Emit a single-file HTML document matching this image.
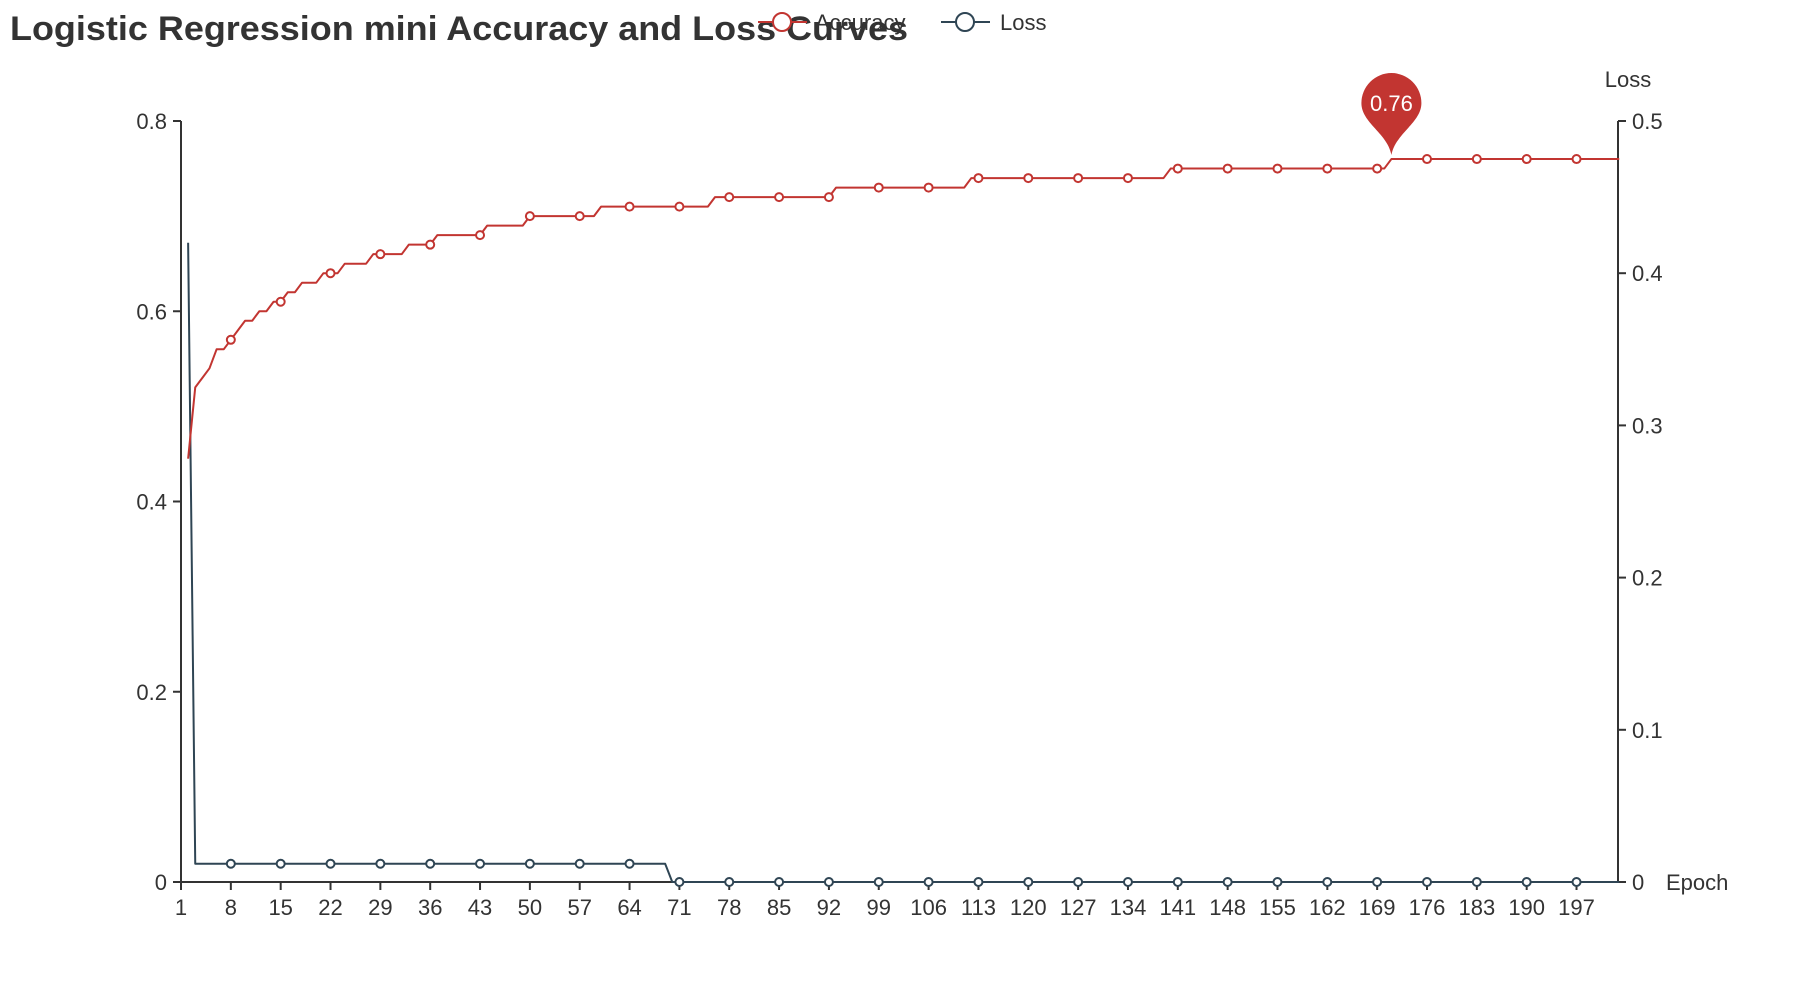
<!DOCTYPE html>
<html><head><meta charset="utf-8">
<style>
html,body{margin:0;padding:0;background:#fff;}
svg{display:block;font-family:"Liberation Sans",sans-serif;}
</style></head>
<body>
<svg id="chart" width="1800" height="1000" viewBox="0 0 1800 1000">
  <text x="10" y="40" font-size="34" font-weight="bold" fill="#333" textLength="898" lengthAdjust="spacingAndGlyphs">Logistic Regression mini Accuracy and Loss Curves</text>
  <g>
    <line x1="758" y1="22" x2="807" y2="22" stroke="#c23531" stroke-width="2"/>
    <circle cx="782" cy="22" r="9" fill="#fff" stroke="#c23531" stroke-width="2"/>
    <text x="815" y="30" font-size="22" fill="#333">Accuracy</text>
  </g>
  <g>
    <line x1="941" y1="22" x2="990" y2="22" stroke="#2f4554" stroke-width="2"/>
    <circle cx="965" cy="22" r="9" fill="#fff" stroke="#2f4554" stroke-width="2"/>
    <text x="1000" y="30" font-size="22" fill="#333">Loss</text>
  </g>
  <g id="axes"></g>
  <g id="series"></g>
</svg>
<script>
const accChangeEpochs = [2,3,4,5,6,8,9,10,12,14,16,18,21,24,28,33,37,44,50,60,76,93,112,140,171];
const accChangeValues = [0.445,0.52,0.53,0.54,0.56,0.57,0.58,0.59,0.60,0.61,0.62,0.63,0.64,0.65,0.66,0.67,0.68,0.69,0.70,0.71,0.72,0.73,0.74,0.75,0.76];
const lossChangeEpochs = [2,3,70];
const lossChangeValues = [0.42,0.012,0.0];
const lastEpoch = 203;
const leftTicks = [0,0.2,0.4,0.6,0.8];
const leftTickLabels = ["0","0.2","0.4","0.6","0.8"];
const rightTicks = [0,0.1,0.2,0.3,0.4,0.5];
const rightTickLabels = ["0","0.1","0.2","0.3","0.4","0.5"];
const markEpoch = 171;
const markValue = 0.76;

const NS="http://www.w3.org/2000/svg";
const X0=181, STEP=7.12, Y0=882, YT=121, XR=1618;
const xOf=e=>X0+(e-1)*STEP;
const yL=v=>Y0-(Y0-YT)*v/0.8;
const yR=v=>Y0-(Y0-YT)*v/0.5;
function mk(tag,attrs,parent){const el=document.createElementNS(NS,tag);for(const k in attrs)el.setAttribute(k,attrs[k]);parent.appendChild(el);return el;}
function expand(ep,vals){const out=[];for(let e=ep[0];e<=lastEpoch;e++){let v=vals[0];for(let i=0;i<ep.length;i++)if(e>=ep[i])v=vals[i];out.push([e,v]);}return out;}

const axes=document.getElementById('axes');
let l=mk('line',{x1:X0,y1:YT,x2:X0,y2:Y0,stroke:'#333','stroke-width':2},axes);


leftTicks.forEach((t,i)=>{
  const y=yL(t);
  mk('line',{x1:X0-8,y1:y,x2:X0,y2:y,stroke:'#333','stroke-width':2},axes);
  const tx=mk('text',{x:X0-14,y:y+8,'font-size':22,fill:'#333','text-anchor':'end'},axes);
  tx.textContent=leftTickLabels[i];
  
  
});
let r=mk('line',{x1:XR,y1:YT,x2:XR,y2:Y0,stroke:'#333','stroke-width':2},axes);


rightTicks.forEach((t,i)=>{
  const y=yR(t);
  mk('line',{x1:XR,y1:y,x2:XR+8,y2:y,stroke:'#333','stroke-width':2},axes);
  const tx=mk('text',{x:XR+14,y:y+8,'font-size':22,fill:'#333'},axes);
  tx.textContent=rightTickLabels[i];
  
  
});
let rt=mk('text',{x:1628,y:87,'font-size':22,fill:'#333','text-anchor':'middle'},axes);
rt.textContent='Loss';


let xa=mk('line',{x1:X0,y1:Y0,x2:XR,y2:Y0,stroke:'#333','stroke-width':2},axes);


for(let e=1;e<=197;e+=7){
  const x=xOf(e);
  mk('line',{x1:x,y1:Y0,x2:x,y2:Y0+8,stroke:'#333','stroke-width':2},axes);
  const tx=mk('text',{x:x,y:Y0+33,'font-size':22,fill:'#333','text-anchor':'middle'},axes);
  tx.textContent=String(e);
  
  
}
let xt=mk('text',{x:1666,y:Y0+8,'font-size':22,fill:'#333'},axes);
xt.textContent='Epoch';



const ser=document.getElementById('series');
function drawSeries(pts,yf,color,name){
  const d=pts.map((p,i)=>(i?'L':'M')+xOf(p[0]).toFixed(2)+','+yf(p[1]).toFixed(2)).join(' ');
  const p=mk('path',{d:d,fill:'none',stroke:color,'stroke-width':2,'stroke-linejoin':'round'},ser);
  
  
  pts.forEach(pt=>{
    if(pt[0]>=8&&(pt[0]-8)%7===0&&pt[0]<=197){
      const c=mk('circle',{cx:xOf(pt[0]),cy:yf(pt[1]),r:4,fill:'#fff',stroke:color,'stroke-width':2},ser);
      
      
    }
  });
}
drawSeries(expand(lossChangeEpochs,lossChangeValues),yR,'#2f4554','loss');
drawSeries(expand(accChangeEpochs,accChangeValues),yL,'#c23531','accuracy');

const mx=xOf(markEpoch), my=yL(markValue), R=30, cy=my-56;
const g=mk('g',{},ser);


mk('path',{d:`M${mx},${my-4} C${mx-4},${cy+30} ${mx-R},${cy+20} ${mx-R},${cy} A${R},${R} 0 1 1 ${mx+R},${cy} C${mx+R},${cy+20} ${mx+4},${cy+30} ${mx},${my-4} Z`,fill:'#c23531'},g);
const mt=mk('text',{x:mx,y:cy+8,'font-size':22,fill:'#fff','text-anchor':'middle'},g);
mt.textContent=markValue.toFixed(2);
</script>
</body></html>
